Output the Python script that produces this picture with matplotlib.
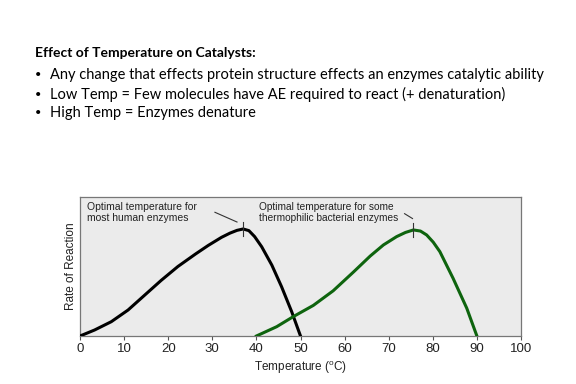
import matplotlib
matplotlib.use("Agg")
import matplotlib.pyplot as plt

# Data
human_temp = [0, 3.3, 7.1, 10.9, 14.7, 18.4, 22.2, 26.2, 29.1, 32.1, 34, 35.6, 37, 38.3, 39.6, 41.2, 43.5, 45.7, 48, 50]
human_rate = [0, 4.3, 10.3, 18.7, 29.5, 40, 50, 59, 65.2, 71, 74, 76, 77, 75.8, 71.5, 64.2, 51, 35.5, 17.5, 0]
thermo_temp = [40, 44.6, 48.4, 52.9, 57.4, 62, 65.8, 68.8, 71.8, 73.8, 75.6, 77.2, 78.6, 80.1, 81.6, 84.6, 87.7, 90]
thermo_rate = [0, 6.7, 14, 22, 32.5, 46, 57.5, 65.5, 71.5, 74.5, 76.3, 75.5, 72.7, 67.5, 60.7, 41.5, 20, 0]
xticks = [0, 10, 20, 30, 40, 50, 60, 70, 80, 90, 100]
human_peak = 37
thermo_peak = 75.6

title = "Effect of Temperature on Catalysts:"
bullets = [
    "Any change that effects protein structure effects an enzymes catalytic ability",
    "Low Temp = Few molecules have AE required to react (+ denaturation)",
    "High Temp = Enzymes denature",
]

fig = plt.figure(figsize=(5.76, 3.84), dpi=100)
fig.patch.set_facecolor("white")

# Slide text
fig.text(35 / 576, 1 - 53 / 384, title, fontsize=10, fontweight="bold",
         family="Lato", va="center", ha="left", color="black")
for i, b in enumerate(bullets):
    y = 1 - (75 + 19 * i) / 384
    fig.text(35 / 576, y, "\u2022", fontsize=8, family="Lato", va="center", ha="left")
    fig.text(50 / 576, y, b, fontsize=10.5, family="Lato", va="center", ha="left")

ax = fig.add_axes([80 / 576, 48 / 384, 441 / 576, 139 / 384])
ax.set_facecolor("#ebebeb")
ax.plot(human_temp, human_rate, color="black", lw=2.2, solid_joinstyle="round", zorder=3)
ax.plot(thermo_temp, thermo_rate, color="#0e640e", lw=2.2, solid_joinstyle="round", zorder=3)
ax.set_xlim(0, 100)
ax.set_ylim(0, 100)
ax.set_xticks(xticks)
ax.set_xticklabels([str(t) for t in xticks], fontsize=9.5, family="Liberation Sans", color="#222222")
ax.set_yticks([])
ax.tick_params(axis="x", direction="out", length=3, color="#555555", pad=2)
for s in ax.spines.values():
    s.set_color("#777777")
    s.set_linewidth(0.9)
ax.set_xlabel("Temperature ($\\mathregular{^{o}}$C)", fontsize=8.5, family="Liberation Sans",
              color="#222222", labelpad=3)
ax.set_ylabel("Rate of Reaction", fontsize=8.5, family="Liberation Sans", color="#222222", labelpad=2)

# Peak markers
for pk, r in [(human_peak, 77), (thermo_peak, 76.3)]:
    ax.plot([pk, pk], [r - 5, r + 5], color="#333333", lw=0.8, zorder=4)

# Annotations
ax.text(1.6, 96.5, "Optimal temperature for\nmost human enzymes", fontsize=7.5,
        family="Liberation Sans", color="#222222", va="top", ha="left", linespacing=1.2)
ax.plot([30.6, 35.6], [89, 82], color="#333333", lw=0.8)
ax.text(40.5, 96.5, "Optimal temperature for some\nthermophilic bacterial enzymes", fontsize=7.3,
        family="Liberation Sans", color="#222222", va="top", ha="left", linespacing=1.2)
ax.plot([73.6, 75.4], [88, 84.5], color="#333333", lw=0.8)

fig.savefig("out.png", dpi=100, facecolor="white")
